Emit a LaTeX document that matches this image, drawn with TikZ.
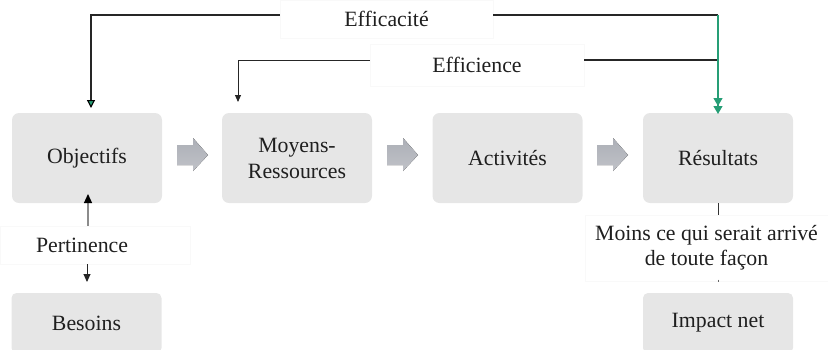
\documentclass[tikz,border=0pt]{standalone}
\usepackage{fontspec}
\setmainfont{Liberation Serif}
\usetikzlibrary{arrows.meta,calc}
\definecolor{boxgray}{RGB}{230,230,230}
\definecolor{arrtop}{RGB}{172,175,182}
\definecolor{arrbot}{RGB}{192,194,200}
\definecolor{tealgreen}{RGB}{38,158,118}
\definecolor{faint}{RGB}{249,249,249}
\tikzset{
  box/.style={fill=boxgray, rounded corners=7pt, minimum width=150pt, minimum height=90pt, inner sep=0pt, align=center, text=black!88, font=\fontsize{21.8}{26}\selectfont},
  lowbox/.style={box, minimum height=60pt, rounded corners=5pt},
  lbl/.style={fill=white, draw=faint, inner sep=0pt, align=center, text=black!88, font=\fontsize{21.8}{25}\selectfont},
  conn/.style={draw=black!85, line width=1.1pt},
  tipblack/.style={-{Triangle[width=6pt,length=7pt]}},
  tipgreen/.style={-{Triangle[width=8pt,length=8pt,fill=tealgreen,color=black]}},
  blockarrow/.style={top color=arrtop, bottom color=arrbot, draw=none}
}
\begin{document}
\begin{tikzpicture}[x=1pt,y=-1pt]
\useasboundingbox (0,0) rectangle (828,349);
\clip (0,0) rectangle (828,349);
% main boxes
\node[box] (obj) at (87,158) {Objectifs};
\node[box] (moy) at (297,158) {Moyens-\\Ressources};
\node[box] (act) at (507.5,158) {Activités};
\node[box] (res) at (718,158) {Résultats};
\node[lowbox] (bes) at (86.5,323) {Besoins};
\node[lowbox] (imp) at (718,323) {Impact net};
% labels
\node[lbl, minimum width=213pt, minimum height=38pt] (effa) at (386.5,19) {Efficacité};
\node[lbl, minimum width=214pt, minimum height=42pt] (effi) at (477,65) {Efficience};
\node[lbl, minimum width=190pt, minimum height=38pt] (pert) at (95,245) {};
\node[font=\fontsize{21.8}{25}\selectfont, text=black!88, inner sep=0pt] (pertt) at (82,245) {Pertinence};
\node[lbl, minimum width=243pt, minimum height=66pt] (moins) at (706.5,248) {Moins ce qui serait arrivé\\de toute façon};
% coordinates
\coordinate (effaL) at (91,15);
\coordinate (effaR) at (718,15);
\coordinate (effiL) at (238,60);
\coordinate (effiR) at (718,60);
\coordinate (objtop) at (91,108);
\coordinate (moytop) at (238,102);
\coordinate (restop) at (718,110);
% connectors
\draw[conn, tipgreen] (effa.west |- effaL) -- (effaL) -- (objtop);
\draw[conn] (effa.east |- effaR) -- (effaR);
\draw[conn, tipblack, line width=0.9pt] (effi.west |- effiL) -- (effiL) -- (moytop);
\draw[conn] (effi.east |- effiR) -- (effiR);
\draw[draw=tealgreen, line width=1.2pt, -{Triangle[width=9pt,length=8pt] Triangle[width=9pt,length=8pt,sep=-4pt]}, color=tealgreen] (effaR) -- (restop);
\draw[draw=black!45, line width=1.2pt, -{Triangle[width=8pt,length=9pt,fill=black,color=black]}] (pert.north -| 88,0) -- (88,194);
\draw[conn, line width=0.9pt, -{Triangle[width=7pt,length=8pt]}] (pert.south -| 87,0) -- (87,282);
\draw[draw=black!80, line width=0.9pt] (res.south) -- (res.south |- moins.north);
\draw[draw=black!60, line width=0.6pt] (718,279.5) -- (718,281.5);
% block arrows
\foreach \x in {177,387,597}{
  \fill[blockarrow] (\x,145) -- (\x+16,145) -- (\x+16,138) -- (\x+31,155) -- (\x+16,171) -- (\x+16,165) -- (\x,165) -- cycle;
}
\end{tikzpicture}
\end{document}
